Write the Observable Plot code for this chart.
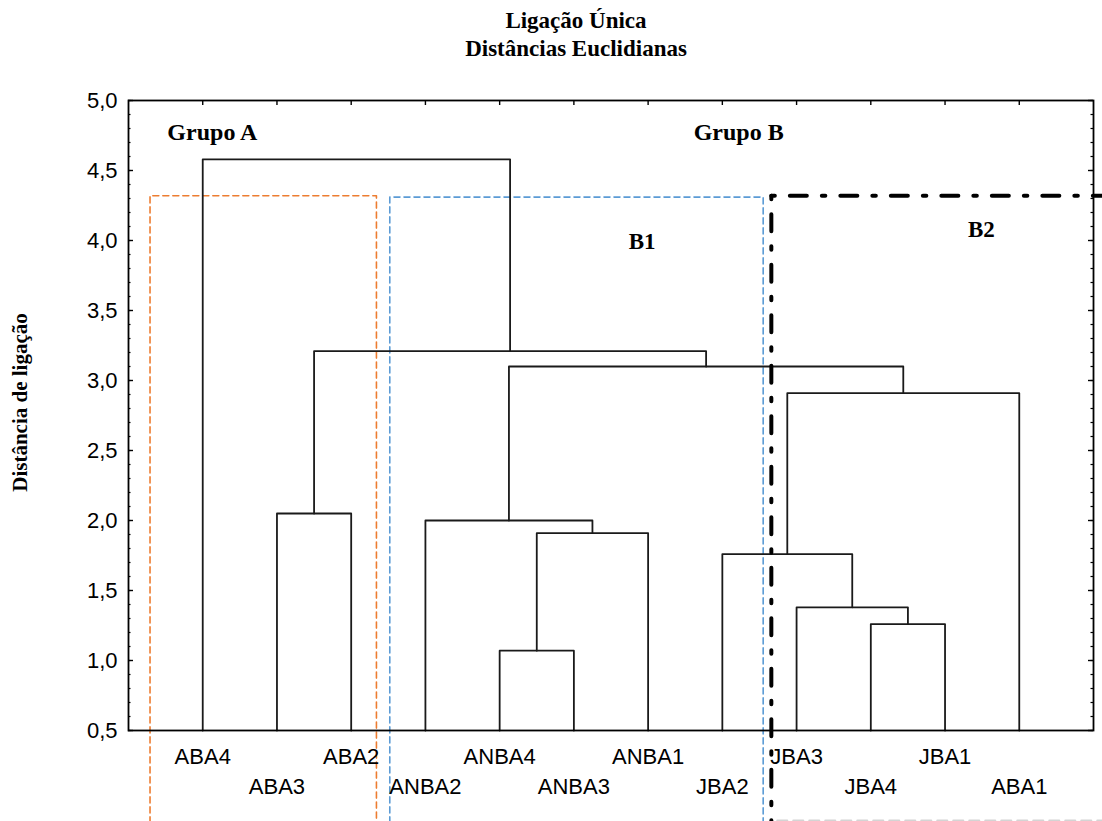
<!DOCTYPE html>
<html><head><meta charset="utf-8">
<script src="https://cdn.jsdelivr.net/npm/d3@7"></script>
<script src="https://cdn.jsdelivr.net/npm/@observablehq/plot@0.6"></script>
<style>
body{margin:0;background:#fff;}
#title{font:bold 23px "Liberation Serif","Times New Roman",serif;line-height:28px;text-align:center;padding-top:7px;padding-left:50px;width:1052px;height:56px;color:#000;}
#chart svg{display:block;}
</style></head><body>
<div id="title"><div>Ligação Única</div><div>Distâncias Euclidianas</div></div>
<div id="chart"></div>
<script>
// leaves (left to right)
const leaves = ["ABA4","ABA3","ABA2","ANBA2","ANBA4","ANBA3","ANBA1","JBA2","JBA3","JBA4","JBA1","ABA1"];
// merges: ids 0..11 are leaves, 12.. are merges in order
const mergeA = [1, 4, 13, 3, 9, 8, 7, 18, 15, 12, 0];
const mergeB = [2, 5, 6, 14, 10, 16, 17, 11, 19, 20, 21];
const mergeHeight = [2.05, 1.07, 1.91, 2.00, 1.26, 1.38, 1.76, 2.91, 3.10, 3.21, 4.58];
const yBase = 0.5;
const yTicks = [0.5, 1.0, 1.5, 2.0, 2.5, 3.0, 3.5, 4.0, 4.5, 5.0];
const yMinorTicks = d3.range(5, 51).map(d => d / 10);

// group boxes (leaf-index units, distance units)
const boxNames = ["Grupo A", "B1", "B2"];
const boxLeft = [-0.71, 2.52, 7.66];
const boxRight = [2.34, 7.55, 12.12];
const boxTop = [4.32, 4.31, 4.32];
const boxBottom = -0.16;
const boxBottomB2 = -0.143;

// group labels
const groupLabels = ["Grupo A", "Grupo B"];
const groupLabelX = [0.13, 7.22];
const groupLabelY = [4.77, 4.77];
const subLabels = ["B1", "B2"];
const subLabelX = [5.92, 10.49];
const subLabelY = [3.99, 4.08];

// build dendrogram segments
const pos = leaves.map((d, i) => i);
const hgt = leaves.map(() => yBase);
const dendro = [];
mergeA.forEach((a, k) => {
  const b = mergeB[k], H = mergeHeight[k], id = leaves.length + k;
  dendro.push({m: k, x: pos[a], y: hgt[a]}, {m: k, x: pos[a], y: H}, {m: k, x: pos[b], y: H}, {m: k, x: pos[b], y: hgt[b]});
  pos[id] = (pos[a] + pos[b]) / 2;
  hgt[id] = H;
});
const leafPos = pos.slice(0, leaves.length);

function boxPath(i) {
  return [
    {k: i, x: boxLeft[i], y: boxBottom}, {k: i, x: boxLeft[i], y: boxTop[i]},
    {k: i, x: boxRight[i], y: boxTop[i]}, {k: i, x: boxRight[i], y: boxBottom}
  ];
}
const orangeBox = boxPath(0);
const blueBox = boxPath(1);
const blackBox = [
  {k: "v", x: boxLeft[2], y: boxTop[2]}, {k: "v", x: boxLeft[2], y: boxBottom},
  {k: "h", x: boxLeft[2], y: boxTop[2]}, {k: "h", x: boxRight[2], y: boxTop[2]}
];
const blackBottom = [{x: boxLeft[2] + 0.08, y: boxBottomB2}, {x: boxRight[2], y: boxBottomB2}];

const comma = d => d.toFixed(1).replace(".", ",");
const even = leafPos.filter(i => i % 2 === 0);
const odd = leafPos.filter(i => i % 2 === 1);
const serif = '"Liberation Serif","Times New Roman",serif';
const frameW = 1102 - 128 - 9, frameH = 758 - 37 - 91;

const chart = Plot.plot({
  width: 1102, height: 758,
  marginTop: 37, marginBottom: 91, marginLeft: 128, marginRight: 9,
  x: {domain: [-1, 12]},
  y: {domain: [0.5, 5]},
  style: {fontFamily: '"Liberation Sans", Arial, sans-serif', fontSize: "22px", color: "#000", background: "#fff", overflow: "visible"},
  marks: [
    Plot.line(orangeBox, {x: "x", y: "y", z: "k", stroke: "#ED7D31", strokeWidth: 1.6, strokeDasharray: "6,4", clip: false}),
    Plot.line(blueBox, {x: "x", y: "y", z: "k", stroke: "#5B9BD5", strokeWidth: 1.6, strokeDasharray: "6,4", clip: false}),
    Plot.line(dendro, {x: "x", y: "y", z: "m", stroke: "#1a1a1a", strokeWidth: 1.8}),
    Plot.line(blackBox, {x: "x", y: "y", z: "k", stroke: "#000", strokeWidth: 4, strokeDasharray: "3.5,15,17,15", clip: false}),
    Plot.line(blackBottom, {x: "x", y: "y", stroke: "#d4d4d4", strokeWidth: 2, strokeDasharray: "10,6", clip: false}),
    Plot.frame({stroke: "#000", strokeWidth: 1.8}),
    // inward ticks: left and right edges
    Plot.tickY(yMinorTicks, {y: d => d, stroke: "#000", strokeWidth: 1.2, insetRight: frameW - 2.5}),
    Plot.tickY(yTicks, {y: d => d, stroke: "#000", strokeWidth: 1.4, insetRight: frameW - 5}),
    Plot.tickY(yMinorTicks, {y: d => d, stroke: "#000", strokeWidth: 1.2, insetLeft: frameW - 2.5}),
    Plot.tickY(yTicks, {y: d => d, stroke: "#000", strokeWidth: 1.4, insetLeft: frameW - 5}),
    // inward ticks: top edge at leaves
    Plot.tickX(leafPos, {x: d => d, stroke: "#000", strokeWidth: 1.4, insetBottom: frameH - 5}),
    Plot.axisY({ticks: yTicks, tickSize: 0, tickPadding: 11, tickFormat: comma, label: null}),
    Plot.axisX({anchor: "bottom", ticks: even, tickSize: 0, tickPadding: 18, tickFormat: i => leaves[i], label: null}),
    Plot.axisX({anchor: "bottom", ticks: odd, tickSize: 0, tickPadding: 48, tickFormat: i => leaves[i], label: null}),
    Plot.text(groupLabels, {x: (d, i) => groupLabelX[i], y: (d, i) => groupLabelY[i], text: d => d, fontFamily: serif, fontWeight: "bold", fontSize: 24, fill: "#000"}),
    Plot.text(subLabels, {x: (d, i) => subLabelX[i], y: (d, i) => subLabelY[i], text: d => d, fontFamily: serif, fontWeight: "bold", fontSize: 23, fill: "#000"}),
    Plot.text(["Distância de ligação"], {frameAnchor: "left", textAnchor: "middle", rotate: -90, dx: -108, dy: -13, fontFamily: serif, fontWeight: "bold", fontSize: 21, fill: "#000"})
  ]
});
document.getElementById("chart").appendChild(chart);
</script>
</body></html>
